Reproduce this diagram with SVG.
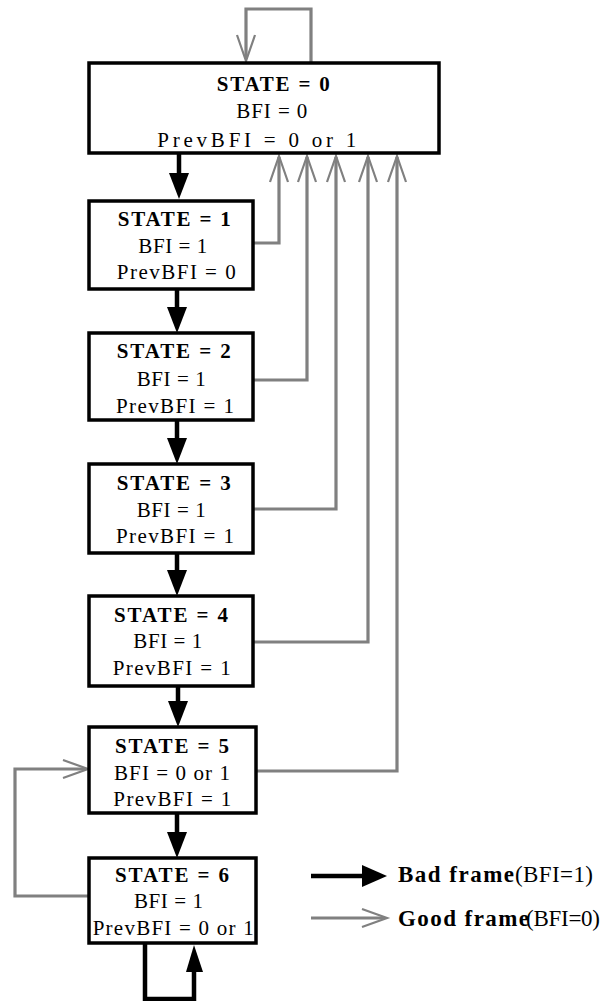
<svg xmlns="http://www.w3.org/2000/svg" width="602" height="1001" viewBox="0 0 602 1001">
<style>
.box{fill:#fff;stroke:#000;stroke-width:3.5}
.t{font-family:"Liberation Serif","Times New Roman",serif;font-size:21px;fill:#000}
.b{font-weight:bold}
.lg{font-family:"Liberation Serif","Times New Roman",serif;font-size:23px;fill:#000}
.bad{fill:none;stroke:#000;stroke-width:4.5}
.good{fill:none;stroke:#808080;stroke-width:3.2}
.chev{fill:none;stroke:#808080;stroke-width:2.2}
.tri{fill:#000}
</style>
<rect width="602" height="1001" fill="#fff"/>
<g id="connectors">
  <line class="bad" x1="179" y1="153" x2="179" y2="175"/>
  <polygon class="tri" points="169,173 189,173 179,199"/>
  <line class="bad" x1="177" y1="289" x2="177" y2="309"/>
  <polygon class="tri" points="167,307 187,307 177,333"/>
  <line class="bad" x1="177" y1="420" x2="177" y2="440"/>
  <polygon class="tri" points="167,438 187,438 177,464"/>
  <line class="bad" x1="177" y1="553" x2="177" y2="572"/>
  <polygon class="tri" points="167,570 187,570 177,596"/>
  <line class="bad" x1="178" y1="686" x2="178" y2="703"/>
  <polygon class="tri" points="168,701 188,701 178,727"/>
  <line class="bad" x1="177" y1="813" x2="177" y2="834"/>
  <polygon class="tri" points="167,832 187,832 177,858"/>
  <polyline class="bad" points="145,943 145,999 194,999 194,970"/>
  <polygon class="tri" points="186,972 203,972 194,945"/>
  <polyline class="good" points="311,63 311,9 246,9 246,59"/>
  <polyline class="chev" points="237,35 246,61 255,35"/>
  <polyline class="good" points="253,243 279,243 279,157"/>
  <polyline class="chev" points="270,182 279,156 288,182"/>
  <polyline class="good" points="253,380 307,380 307,157"/>
  <polyline class="chev" points="298,182 307,156 316,182"/>
  <polyline class="good" points="253,509 336,509 336,157"/>
  <polyline class="chev" points="327,182 336,156 345,182"/>
  <polyline class="good" points="253,642 368,642 368,157"/>
  <polyline class="chev" points="359,182 368,156 377,182"/>
  <polyline class="good" points="256,771 397,771 397,157"/>
  <polyline class="chev" points="388,182 397,156 406,182"/>
  <polyline class="good" points="89,896 15,896 15,769 86,769"/>
  <polyline class="chev" points="63,760 88,769 63,778"/>
</g>
<g id="state0">
  <rect class="box" x="89" y="63" width="350" height="90"/>
  <text class="t b" x="216.7" y="91" textLength="113" lengthAdjust="spacing">STATE = 0</text>
  <text class="t" x="236.3" y="117.5" textLength="71" lengthAdjust="spacing">BFI = 0</text>
  <text class="t" x="157.3" y="146.5" textLength="199" lengthAdjust="spacing">PrevBFI = 0 or 1</text>
</g>
<g id="state1">
  <rect class="box" x="89" y="201" width="164" height="88"/>
  <text class="t b" x="117.7" y="226" textLength="113" lengthAdjust="spacing">STATE = 1</text>
  <text class="t" x="138.3" y="253.3" textLength="69" lengthAdjust="spacing">BFI = 1</text>
  <text class="t" x="116.7" y="279.3" textLength="119" lengthAdjust="spacing">PrevBFI = 0</text>
</g>
<g id="state2">
  <rect class="box" x="89" y="333" width="164" height="87"/>
  <text class="t b" x="116.7" y="358.3" textLength="114" lengthAdjust="spacing">STATE = 2</text>
  <text class="t" x="136.7" y="386" textLength="69" lengthAdjust="spacing">BFI = 1</text>
  <text class="t" x="116" y="412.7" textLength="118" lengthAdjust="spacing">PrevBFI = 1</text>
</g>
<g id="state3">
  <rect class="box" x="89" y="464" width="164" height="89"/>
  <text class="t b" x="116.7" y="490" textLength="114" lengthAdjust="spacing">STATE = 3</text>
  <text class="t" x="136.7" y="516.7" textLength="69" lengthAdjust="spacing">BFI = 1</text>
  <text class="t" x="116" y="543.3" textLength="118" lengthAdjust="spacing">PrevBFI = 1</text>
</g>
<g id="state4">
  <rect class="box" x="89" y="596" width="164" height="90"/>
  <text class="t b" x="114" y="621.7" textLength="114" lengthAdjust="spacing">STATE = 4</text>
  <text class="t" x="133.3" y="648.3" textLength="69" lengthAdjust="spacing">BFI = 1</text>
  <text class="t" x="112.7" y="675" textLength="118" lengthAdjust="spacing">PrevBFI = 1</text>
</g>
<g id="state5">
  <rect class="box" x="89" y="727" width="167" height="86"/>
  <text class="t b" x="115" y="753.3" textLength="114" lengthAdjust="spacing">STATE = 5</text>
  <text class="t" x="114" y="780" textLength="116" lengthAdjust="spacing">BFI = 0 or 1</text>
  <text class="t" x="113.3" y="806" textLength="118" lengthAdjust="spacing">PrevBFI = 1</text>
</g>
<g id="state6">
  <rect class="box" x="89" y="858" width="167" height="85"/>
  <text class="t b" x="115" y="881.7" textLength="114" lengthAdjust="spacing">STATE = 6</text>
  <text class="t" x="134" y="908.3" textLength="69" lengthAdjust="spacing">BFI = 1</text>
  <text class="t" x="92.7" y="935" textLength="161" lengthAdjust="spacing">PrevBFI = 0 or 1</text>
</g>
<g id="legend">
  <line class="bad" x1="311" y1="876" x2="364" y2="876"/>
  <polygon class="tri" points="362,865 387,876 362,887"/>
  <text class="lg b" x="398" y="882" textLength="116" lengthAdjust="spacing">Bad frame</text>
  <text class="lg" x="515" y="882" textLength="78" lengthAdjust="spacing">(BFI=1)</text>
  <line class="good" x1="311" y1="918" x2="385" y2="918"/>
  <polyline class="chev" points="362,909 387,918 362,927"/>
  <text class="lg b" x="398" y="926" textLength="131" lengthAdjust="spacing">Good frame</text>
  <text class="lg" x="526" y="926" textLength="74" lengthAdjust="spacing">(BFI=0)</text>
</g>
</svg>
